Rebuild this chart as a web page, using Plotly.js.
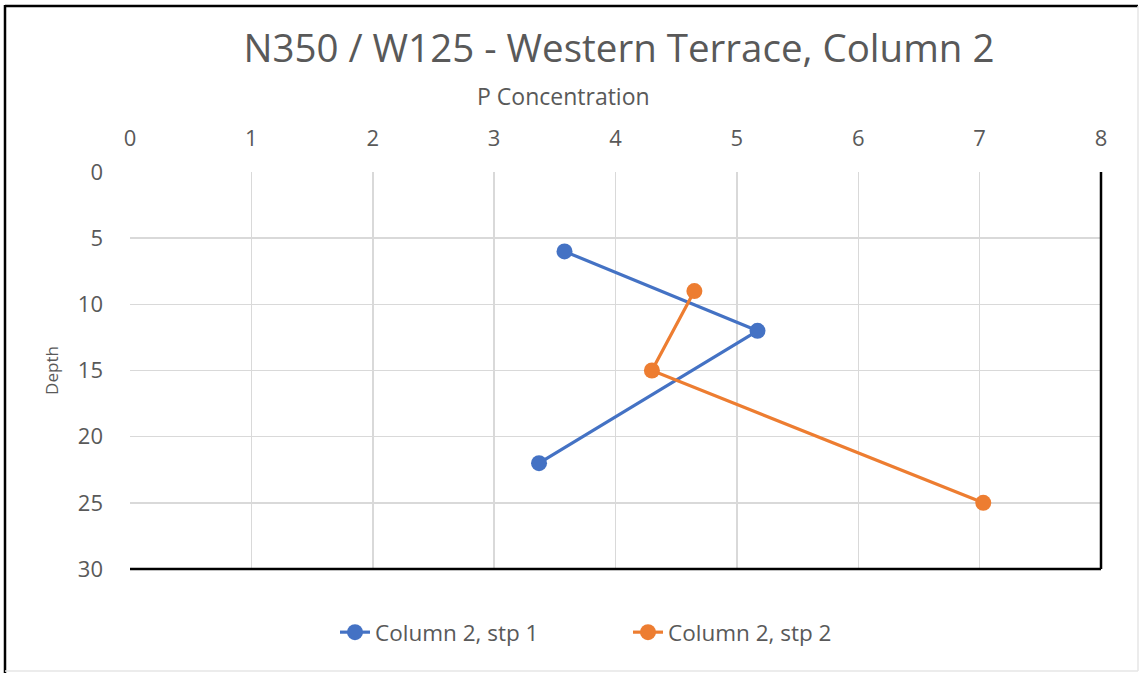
<!DOCTYPE html>
<html>
<head>
<meta charset="utf-8">
<script src="https://cdn.plot.ly/plotly-3.0.1.min.js"></script>
<style>
  html, body { margin: 0; padding: 0; background: #fff; }
  #chart { width: 1142px; height: 673px; }
</style>
</head>
<body>
<div id="chart"></div>
<script>
// P concentration by depth, two sample pits in column 2
const seriesNames = ['Column 2, stp 1', 'Column 2, stp 2'];
const stp1Conc  = [3.58, 5.17, 3.37];
const stp1Depth = [6, 12, 22];
const stp2Conc  = [4.65, 4.30, 7.03];
const stp2Depth = [9, 15, 25];
const concTicks  = [0, 1, 2, 3, 4, 5, 6, 7, 8];
const depthTicks = [0, 5, 10, 15, 20, 25, 30];

const BLUE = '#4472C4';
const ORANGE = '#ED7D31';
const TEXT = '#595959';
const FONT = 'Open Sans, Lato, sans-serif';

function series(name, x, y, color) {
  return {
    type: 'scatter', mode: 'lines+markers', name: name,
    x: x, y: y,
    line: { color: color, width: 3.2 },
    marker: { color: color, size: 16 }
  };
}

const data = [
  series(seriesNames[0], stp1Conc, stp1Depth, BLUE),
  series(seriesNames[1], stp2Conc, stp2Depth, ORANGE)
];

const PW = 971, PH = 397; // plot area size in px

const layout = {
  width: 1142, height: 673,
  margin: { l: 130, r: 41, t: 172, b: 104 },
  paper_bgcolor: '#fff', plot_bgcolor: '#fff',
  font: { family: FONT, color: TEXT },
  title: {
    text: 'N350 / W125 - Western Terrace, Column 2',
    font: { size: 38.5, color: TEXT, family: FONT },
    x: 0.542, xanchor: 'center', y: 0.928, yanchor: 'middle'
  },
  xaxis: {
    side: 'top', range: [0, 8], tickvals: concTicks,
    showgrid: true, gridcolor: '#d9d9d9', gridwidth: 1.5,
    zeroline: false, showline: false, ticks: '',
    ticklabelstandoff: 21,
    tickfont: { size: 22, color: TEXT }
  },
  yaxis: {
    range: [30, 0], tickvals: depthTicks,
    showgrid: true, gridcolor: '#d9d9d9', gridwidth: 1.5,
    zeroline: false, showline: false, ticks: '',
    ticklabelstandoff: 26,
    tickfont: { size: 22, color: TEXT },
    title: { text: 'Depth', font: { size: 17, color: TEXT }, standoff: 14 }
  },
  annotations: [
    { text: 'P Concentration', xref: 'paper', yref: 'paper',
      x: (563 - 130) / PW, y: 1 + (172 - 96) / PH, xanchor: 'center', yanchor: 'middle',
      showarrow: false, font: { size: 23, color: TEXT } }
  ],
  showlegend: true,
  legend: {
    orientation: 'h', x: (335 - 130) / PW, xanchor: 'left', y: -0.16, yanchor: 'middle',
    font: { size: 22.5, color: TEXT }, entrywidth: 248, entrywidthmode: 'pixels',
    traceorder: 'normal'
  },
  shapes: [
    // frame lines on the bottom and right of the plot area
    { type: 'line', xref: 'x domain', yref: 'y domain', x0: 0, x1: 1, y0: 0, y1: 0,
      line: { color: '#000', width: 2.5 } },
    { type: 'line', xref: 'x domain', yref: 'y domain', x0: 1, x1: 1, y0: 0, y1: 1,
      line: { color: '#000', width: 2.5 } },
    // outer chart border
    { type: 'line', xref: 'paper', yref: 'paper', x0: -125/PW, x1: -125/PW, y0: -104/PH, y1: 1 + 167/PH,
      line: { color: '#000', width: 2.5 } },
    { type: 'line', xref: 'paper', yref: 'paper', x0: -125/PW, x1: 1 + 37/PW, y0: 1 + 166/PH, y1: 1 + 166/PH,
      line: { color: '#000', width: 2.5 } },
    { type: 'line', xref: 'paper', yref: 'paper', x0: 1 + 37/PW, x1: 1 + 37/PW, y0: -102/PH, y1: 1 + 166/PH,
      line: { color: '#e6e6e6', width: 1.5 } },
    { type: 'line', xref: 'paper', yref: 'paper', x0: -125/PW, x1: 1 + 37/PW, y0: -102/PH, y1: -102/PH,
      line: { color: '#e6e6e6', width: 1.5 } }
  ]
};

Plotly.newPlot('chart', data, layout, { displayModeBar: false, staticPlot: true });
</script>
</body>
</html>
